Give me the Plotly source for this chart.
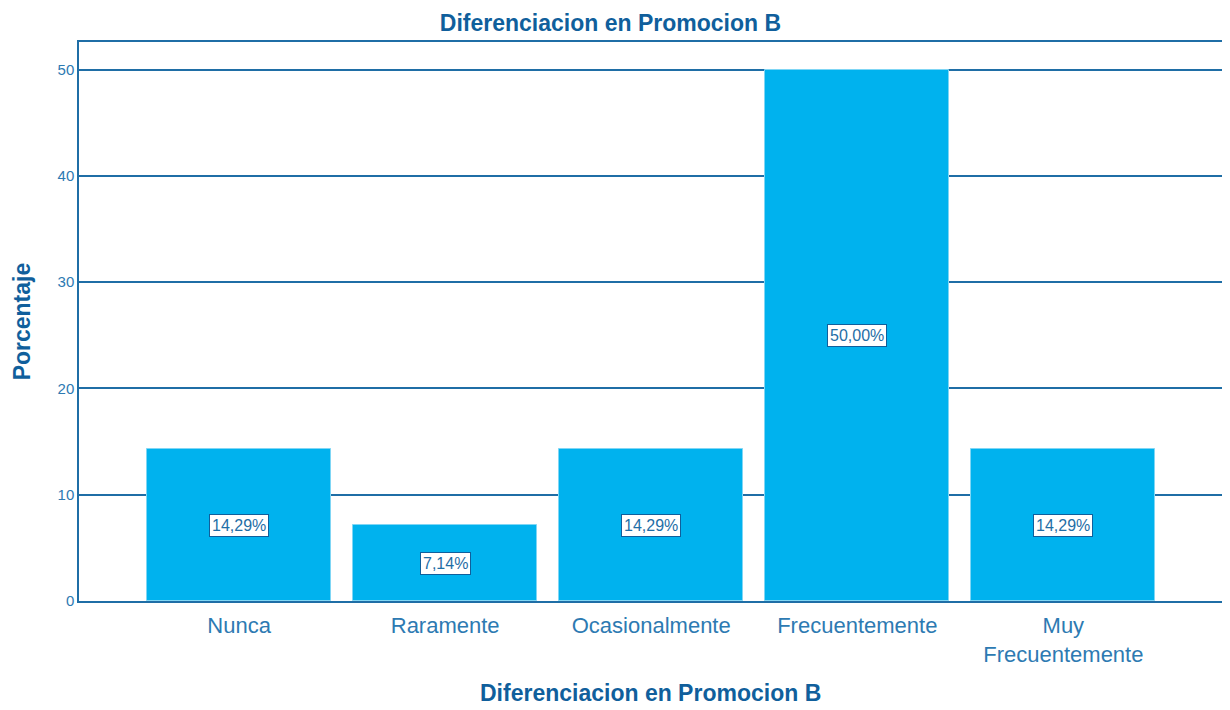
import plotly.graph_objects as go

# categories and values (percent)
categories = ["Nunca", "Raramente", "Ocasionalmente", "Frecuentemente", "Muy<br>Frecuentemente"]
percentages = [14.29, 7.14, 14.29, 50.00, 14.29]
value_labels = ["14,29%", "7,14%", "14,29%", "50,00%", "14,29%"]
y_ticks = [0, 10, 20, 30, 40, 50]

DARK = "#105F9C"
BLUE = "#1F6EA6"
TICK = "#2D7AB2"
BAR = "#00B2EE"
FONT = "Liberation Sans, Arial, sans-serif"

fig = go.Figure()
fig.add_trace(go.Bar(
    x=categories,
    y=percentages,
    width=0.893,
    marker=dict(color=BAR, line=dict(color="#7FD6F5", width=1)),
    hoverinfo="x+y",
))

# value boxes in the middle of each bar
for cat, val, lab in zip(categories, percentages, value_labels):
    fig.add_annotation(
        x=cat, y=val / 2, text=lab, showarrow=False,
        font=dict(family=FONT, size=16, color=BLUE),
        bgcolor="white", bordercolor=DARK, borderwidth=1, borderpad=2,
    )

# axis titles as annotations for exact placement
fig.add_annotation(
    text="<b>Diferenciacion en Promocion B</b>", showarrow=False,
    xref="paper", yref="paper", x=0.5, y=-0.165, yanchor="middle",
    font=dict(family=FONT, size=23, color=DARK),
)
fig.add_annotation(
    text="<b>Porcentaje</b>", showarrow=False, textangle=-90,
    xref="paper", yref="paper", x=-0.05, y=0.5, xanchor="center",
    font=dict(family=FONT, size=23, color=DARK),
)

# page body has an 8px margin, so the figure is sized to fit the window
fig.update_layout(
    width=1222, height=702,
    margin=dict(l=71, r=8, t=34, b=109),
    paper_bgcolor="white", plot_bgcolor="white",
    showlegend=False,
    bargap=0,
    font=dict(family=FONT, color=BLUE),
    title=dict(
        text="<b>Diferenciacion en Promocion B</b>",
        x=0.493, xanchor="center", yref="container", y=0.979, yanchor="middle",
        font=dict(size=23, color=DARK),
    ),
    xaxis=dict(
        range=[-0.777, 4.77], automargin=False,
        showline=True, linecolor=BLUE, linewidth=1.5, mirror=True,
        showgrid=False, ticks="", ticklabelstandoff=4,
        tickfont=dict(size=22, color=TICK),
    ),
    yaxis=dict(
        range=[0, 52.6], automargin=False,
        tickvals=y_ticks,
        showline=True, linecolor=BLUE, linewidth=1.5, mirror=True,
        showgrid=True, gridcolor=BLUE, gridwidth=1.5,
        zeroline=False, ticks="",
        tickfont=dict(size=15, color=TICK),
    ),
)

fig.write_html("out.html")
